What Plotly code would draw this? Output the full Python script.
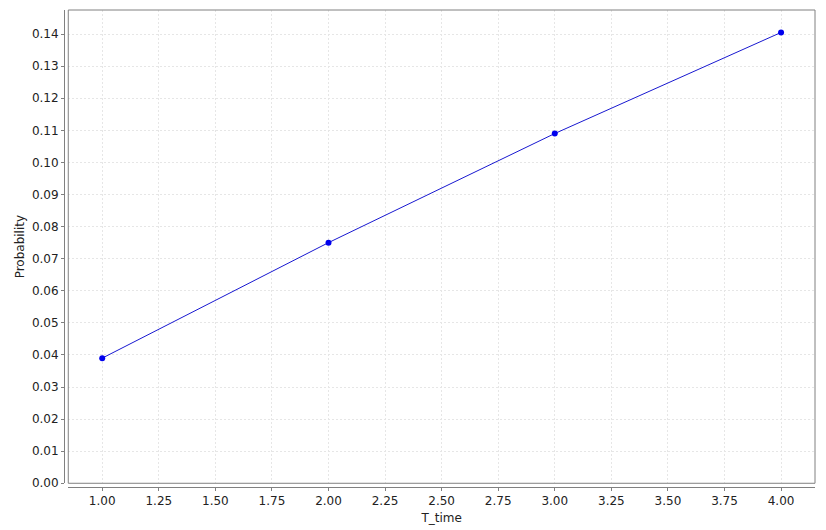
import plotly.graph_objects as go

t_time = [1.0, 2.0, 3.0, 4.0]
probability = [0.039, 0.075, 0.109, 0.1405]

x_ticks = [1.0, 1.25, 1.5, 1.75, 2.0, 2.25, 2.5, 2.75, 3.0, 3.25, 3.5, 3.75, 4.0]
y_ticks = [round(i * 0.01, 2) for i in range(15)]

font = "DejaVu Sans"
grid_col = "#e6e6e6"
axis_col = "#808080"

fig = go.Figure()
fig.add_trace(go.Scatter(
    x=t_time, y=probability, mode="lines+markers",
    line=dict(color="#1818d0", width=1),
    marker=dict(color="#0000ee", size=6),
    showlegend=False, cliponaxis=False,
))

fig.update_layout(
    width=826, height=530,
    margin=dict(l=64, r=11, t=10, b=43),
    paper_bgcolor="white", plot_bgcolor="white",
    font=dict(family=font, size=12, color="#333333"),
    xaxis=dict(
        domain=[0.0057, 1], anchor="free", position=0, automargin=False,
        range=[0.85, 4.15], tickvals=x_ticks,
        ticktext=[f"{v:.2f}" for v in x_ticks],
        showgrid=True, gridcolor=grid_col, griddash="2px,2px", gridwidth=1,
        showline=True, linecolor=axis_col, linewidth=1,
        ticks="outside", ticklen=3, tickcolor=axis_col,
        zeroline=False,
        title=dict(text="T_time", font=dict(size=12, color="#222222"), standoff=6),
        tickfont=dict(size=12, color="#222222"),
    ),
    yaxis=dict(
        domain=[0.0078, 1], anchor="free", position=0, automargin=False,
        range=[0, 0.1475], tickvals=y_ticks,
        ticktext=[f"{v:.2f}" for v in y_ticks],
        showgrid=True, gridcolor=grid_col, griddash="2px,2px", gridwidth=1,
        showline=True, linecolor=axis_col, linewidth=1,
        ticks="outside", ticklen=3, tickcolor=axis_col,
        zeroline=False,
        title=dict(text="Probability", font=dict(size=12, color="#222222"), standoff=3),
        tickfont=dict(size=12, color="#222222"),
    ),
    shapes=[dict(type="rect", xref="x domain", yref="y domain",
                 x0=0, x1=1, y0=0, y1=1,
                 line=dict(color=axis_col, width=1), layer="above")],
)

fig.write_html("out.html", config={"displayModeBar": False},
               post_script="document.body.style.margin='0';")
